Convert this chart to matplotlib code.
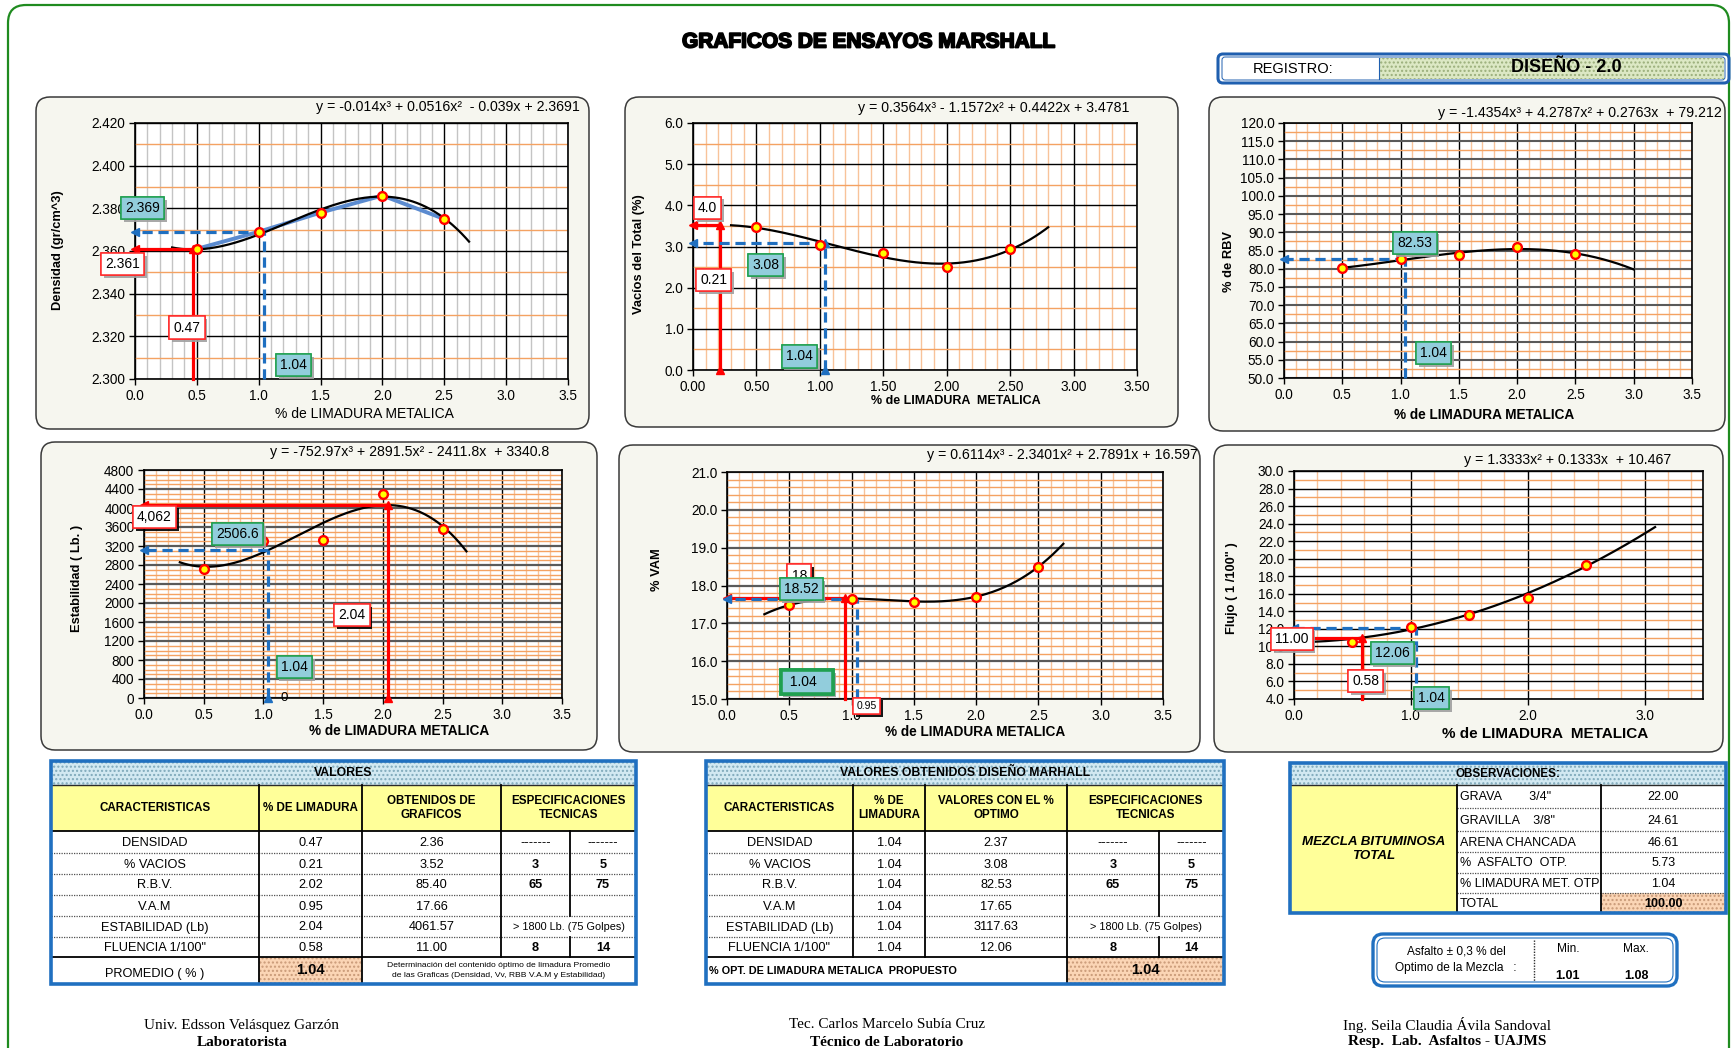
import numpy as np
import matplotlib
matplotlib.use("Agg")
import matplotlib.pyplot as plt
from matplotlib.patches import FancyBboxPatch, Rectangle
from matplotlib.ticker import MultipleLocator, FormatStrFormatter
import matplotlib.patheffects as pe

plt.rcParams['font.family'] = ['Liberation Sans', 'DejaVu Sans']

# ---------------- data ----------------
limadura = [0.5, 1.0, 1.5, 2.0, 2.5]
densidad = [2.361, 2.369, 2.378, 2.386, 2.375]
vacios = [3.47, 3.04, 2.84, 2.51, 2.94]
rbv = [80.2, 82.6, 83.8, 85.9, 84.1]
estabilidad = [2709, 3312, 3333, 4295, 3558]
vam = [17.48, 17.64, 17.57, 17.70, 18.48]
flujo = [10.55, 12.26, 13.63, 15.53, 19.23]

# polynomial trend lines (coefficients, highest power first) and their x span
coef_densidad = [-0.014, 0.0516, -0.039, 2.3691]
coef_vacios = [0.3564, -1.1572, 0.4422, 3.4781]
coef_rbv = [-1.4354, 4.2787, 0.2763, 79.212]
coef_estabilidad = [-752.97, 2891.5, -2411.8, 3340.8]
coef_vam = [0.6114, -2.3401, 2.7891, 16.597]
coef_flujo = [1.3333, 0.1333, 10.467]
span_densidad = [0.3, 2.7]
span_vacios = [0.3, 2.8]
span_rbv = [0.5, 3.0]
span_estabilidad = [0.3, 2.7]
span_vam = [0.3, 2.7]
span_flujo = [0.17, 3.09]

# optimum and per-property readings
optimo = 1.04
opt_densidad, opt_vacios, opt_rbv = 2.369, 3.08, 82.53
opt_estabilidad, opt_vam, opt_flujo = 3117.63, 17.65, 12.06
lim_densidad, val_densidad = 0.47, 2.361
lim_vacios, val_vacios = 0.21, 3.52
lim_estabilidad, val_estabilidad = 2.04, 4062
lim_vam, val_vam = 0.95, 17.66
lim_flujo, val_flujo = 0.58, 11.00

# table contents
caracteristicas = ['DENSIDAD', '% VACIOS', 'R.B.V.', 'V.A.M', 'ESTABILIDAD (Lb)', 'FLUENCIA 1/100"']
t1_limadura = ['0.47', '0.21', '2.02', '0.95', '2.04', '0.58']
t1_obtenidos = ['2.36', '3.52', '85.40', '17.66', '4061.57', '11.00']
t2_limadura = ['1.04'] * 6
t2_optimo = ['2.37', '3.08', '82.53', '17.65', '3117.63', '12.06']
spec_min = ['-------', '3', '65', '', None, '8']
spec_max = ['-------', '5', '75', '', None, '14']
spec_estab = '> 1800 Lb. (75 Golpes)'
obs_items = ['GRAVA        3/4"', 'GRAVILLA    3/8"', 'ARENA CHANCADA', '%  ASFALTO  OTP.',
             '% LIMADURA MET. OTP', 'TOTAL']
obs_values = ['22.00', '24.61', '46.61', '5.73', '1.04', '100.00']
asfalto_min, asfalto_max = '1.01', '1.08'

# ---------------- figure ----------------
W, H = 1734, 1048
fig = plt.figure(figsize=(W / 100, H / 100), dpi=100)
fig.patch.set_facecolor('white')
bg = fig.add_axes([0, 0, 1, 1])
bg.set_xlim(0, W)
bg.set_ylim(H, 0)
bg.axis('off')

PANEL = '#F6F6EF'
RED = '#FF0000'
BLUE = '#1F6FC0'
ORANGE_H = '#F4A262'
ORANGE_V = '#F8C39A'


def rbox(x0, y0, x1, y1, r, **kw):
    bg.add_patch(FancyBboxPatch((x0, y0), x1 - x0, y1 - y0,
                                boxstyle=f'round,pad=0,rounding_size={r}', **kw))


# outer frame and header
rbox(8, 5, 1729, 1075, 18, fc='none', ec='#1F8B1F', lw=1.6)
bg.text(869, 42, 'GRAFICOS DE ENSAYOS MARSHALL', ha='center', va='center', fontsize=15,
        fontweight='bold', path_effects=[pe.withStroke(linewidth=1.3, foreground='black')])

rbox(1218, 54, 1729, 83, 5, fc='white', ec='#1F5FAF', lw=2.2)
rbox(1222, 57, 1725, 80, 3, fc='white', ec='#1F5FAF', lw=0.7)
bg.add_patch(Rectangle((1379, 58), 345, 21, fc='#DCE8C4', ec='none'))
bg.add_patch(Rectangle((1379, 58), 345, 21, fill=False, hatch='....', ec='#9AAE7A', lw=0))
bg.plot([1379, 1379], [58, 79], color='#1F5FAF', lw=0.8)
bg.text(1293, 69, 'REGISTRO:', ha='center', va='center', fontsize=10.5)
bg.text(1566, 68, 'DISEÑO - 2.0', ha='center', va='center', fontsize=13, fontweight='bold')


def chart(panel, plot, ylim, xstep, xminor, ystep, yminor, xfmt, yfmt,
          vminor, hmajor, hmajor_lw, eq, eq_pos, ylabel, ylabel_pos,
          xlabel, xlabel_pos, xlabel_weight='bold', xlabel_size=9):
    x0, y0, x1, y1 = panel
    rbox(x0, y0, x1, y1, 14, fc=PANEL, ec='#3A3A3A', lw=1.1)
    px0, py0, px1, py1 = plot
    ax = fig.add_axes([px0 / W, 1 - py1 / H, (px1 - px0) / W, (py1 - py0) / H])
    ax.set_facecolor('white')
    ax.set_xlim(0, 3.5)
    ax.set_ylim(*ylim)
    ax.xaxis.set_major_locator(MultipleLocator(xstep))
    ax.xaxis.set_minor_locator(MultipleLocator(xminor))
    ax.yaxis.set_major_locator(MultipleLocator(ystep))
    ax.yaxis.set_minor_locator(MultipleLocator(yminor))
    ax.xaxis.set_major_formatter(FormatStrFormatter(xfmt))
    ax.yaxis.set_major_formatter(FormatStrFormatter(yfmt))
    ax.grid(which='minor', axis='x', color=vminor, lw=1.0)
    ax.grid(which='minor', axis='y', color=ORANGE_H, lw=1.0)
    ax.grid(which='major', axis='x', color='black', lw=1.0)
    ax.grid(which='major', axis='y', color=hmajor, lw=hmajor_lw)
    ax.set_axisbelow(True)
    ax.tick_params(which='minor', length=0)
    ax.tick_params(which='major', length=4, width=1, labelsize=9.8, pad=3)
    for s in ax.spines.values():
        s.set_color('black')
        s.set_linewidth(1.2)
    bg.text(eq_pos[0], eq_pos[1], eq, ha='right', va='center', fontsize=10.2)
    bg.text(ylabel_pos[0], ylabel_pos[1], ylabel, rotation=90, ha='center', va='center',
            fontsize=9.3, fontweight='bold')
    bg.text(xlabel_pos[0], xlabel_pos[1], xlabel, ha='center', va='center',
            fontsize=xlabel_size, fontweight=xlabel_weight)
    return ax


def series(ax, y, coef, span, connect=False):
    if connect:
        ax.plot(limadura, y, color='#5B8BD0', lw=2.8, zorder=3)
    xs = np.linspace(span[0], span[1], 200)
    ax.plot(xs, np.polyval(coef, xs), color='black', lw=1.6, zorder=4)
    ax.plot(limadura, y, ls='none', marker='o', ms=6.3, mfc='#FFFF00', mec=RED, mew=1.7,
            zorder=9, clip_on=False)


def guide(ax, x, y, base, color, dashed, top=False, bottom=False):
    ls = (0, (3.2, 1.8)) if dashed else '-'
    kw = dict(color=color, lw=2.3, ls=ls, zorder=6, clip_on=False)
    ax.plot([x, x], [base, y], **kw)
    ax.plot([x, 0], [y, y], **kw)
    mk = dict(color=color, ms=6, ls='none', zorder=7, clip_on=False)
    ax.plot([0], [y], marker='<', **mk)
    if top:
        ax.plot([x], [y], marker='^', **mk)
    if bottom:
        ax.plot([x], [base], marker='^', **mk)


def tag(ax, x, y, s, kind, size=10, shadow='#A0A0A0', lw=1.1, z=10, pad=0.3):
    if kind == 'red':
        fc, ec = 'white', '#FF2A2A'
    else:
        fc, ec = '#92CDDC', '#20A050'
    t = ax.text(x, y, s, ha='center', va='center', fontsize=size, zorder=z, clip_on=False,
                bbox=dict(boxstyle=f'square,pad={pad}', fc=fc, ec=ec, lw=lw))
    t.get_bbox_patch().set_path_effects(
        [pe.withSimplePatchShadow(offset=(2, -2), shadow_rgbFace=shadow, alpha=0.9), pe.Normal()])
    return t


# ---- Densidad ----
ax1 = chart((36, 97, 589, 429), (135, 123, 568, 379), (2.300, 2.420), 0.5, 0.1, 0.02, 0.01,
            '%.1f', '%.3f', '#C4C4C4', 'black', 1.0,
            'y = -0.014x³ + 0.0516x²  - 0.039x + 2.3691', (580, 107),
            'Densidad (gr/cm^3)', (58, 250), '% de LIMADURA METALICA', (364, 414),
            xlabel_weight='normal', xlabel_size=10)
series(ax1, densidad, coef_densidad, span_densidad, connect=True)
guide(ax1, lim_densidad, val_densidad, 2.300, RED, False, top=True)
guide(ax1, optimo, opt_densidad, 2.300, BLUE, True)
tag(ax1, 0.06, 2.3800, f'{opt_densidad:.3f}', 'teal')
tag(ax1, -0.10, 2.3539, f'{val_densidad:.3f}', 'red')
tag(ax1, 0.42, 2.3241, f'{lim_densidad:.2f}', 'red')
tag(ax1, 1.28, 2.3066, f'{optimo:.2f}', 'teal')

# ---- Vacios ----
ax2 = chart((625, 97, 1178, 427), (693, 123, 1137, 370), (0, 6), 0.5, 0.1, 1.0, 0.5,
            '%.2f', '%.1f', ORANGE_V, 'black', 1.0,
            'y = 0.3564x³ - 1.1572x² + 0.4422x + 3.4781', (1130, 108),
            'Vacíos del Total (%)', (639, 254), '% de LIMADURA  METALICA', (956, 401),
            xlabel_size=9)
series(ax2, vacios, coef_vacios, span_vacios)
guide(ax2, lim_vacios, val_vacios, 0, RED, False, top=True, bottom=True)
guide(ax2, optimo, opt_vacios, 0, BLUE, True, top=True, bottom=True)
tag(ax2, 0.115, 3.94, '4.0', 'red')
tag(ax2, 0.163, 2.18, f'{lim_vacios:.2f}', 'red')
tag(ax2, 0.573, 2.55, f'{opt_vacios:.2f}', 'teal')
tag(ax2, 0.837, 0.33, f'{optimo:.2f}', 'teal')

# ---- RBV ----
ax3 = chart((1209, 97, 1725, 431), (1284, 123, 1692, 378), (50, 120), 0.5, 0.1, 5.0, 2.5,
            '%.1f', '%.1f', ORANGE_V, '#5A5A5A', 1.5,
            'y = -1.4354x³ + 4.2787x² + 0.2763x  + 79.212', (1722, 113),
            '% de RBV', (1229, 262), '% de LIMADURA METALICA', (1484, 415), xlabel_size=9.8)
series(ax3, rbv, coef_rbv, span_rbv)
guide(ax3, optimo, opt_rbv, 50, BLUE, True)
tag(ax3, 1.124, 87.1, f'{opt_rbv:.2f}', 'teal')
tag(ax3, 1.284, 56.8, f'{optimo:.2f}', 'teal')

# ---- Estabilidad ----
ax4 = chart((41, 442, 597, 750), (144, 470, 562, 698), (0, 4800), 0.5, 0.1, 400, 100,
            '%.1f', '%d', ORANGE_V, '#5A5A5A', 1.6,
            'y = -752.97x³ + 2891.5x² - 2411.8x  + 3340.8', (549, 452),
            'Estabilidad ( Lb. )', (77, 578), '% de LIMADURA METALICA', (399, 731),
            xlabel_size=9.8)
series(ax4, estabilidad, coef_estabilidad, span_estabilidad)
guide(ax4, lim_estabilidad, val_estabilidad, 0, RED, False, top=True, bottom=True)
guide(ax4, optimo, opt_estabilidad, 0, BLUE, True, bottom=True)
tag(ax4, 0.087, 3817, f'{val_estabilidad:,}', 'red', shadow='black')
tag(ax4, 0.785, 3446, '2506.6', 'teal')
tag(ax4, 1.74, 1747, f'{lim_estabilidad:.2f}', 'red', shadow='black')
tag(ax4, 1.257, 646, f'{optimo:.2f}', 'teal')
ax4.text(1.17, 0, '0', ha='center', va='center', fontsize=9.5, zorder=10, clip_on=False)

# ---- VAM ----
ax5 = chart((619, 445, 1200, 752), (727, 472, 1163, 699), (15, 21), 0.5, 0.1, 1.0, 0.2,
            '%.1f', '%.1f', ORANGE_V, '#5A5A5A', 1.6,
            'y = 0.6114x³ - 2.3401x² + 2.7891x + 16.597', (1198, 455),
            '% VAM', (657, 570), '% de LIMADURA METALICA', (975, 732), xlabel_size=9.8)
series(ax5, vam, coef_vam, span_vam)
guide(ax5, lim_vam, val_vam, 15, RED, False, top=True)
guide(ax5, optimo, opt_vam, 15, BLUE, True)
tag(ax5, 0.58, 18.26, '18', 'red', shadow='black', z=10)
tag(ax5, 0.595, 17.90, '18.52', 'teal', z=11)
tag(ax5, 0.64, 15.45, f' {optimo:.2f}   ', 'teal', lw=2.6, pad=0.35)
tag(ax5, 1.12, 14.82, f'{lim_vam:.2f}', 'red', size=7.5, shadow='black')

# ---- Flujo ----
ax6 = chart((1214, 445, 1723, 752), (1294, 471, 1703, 699), (4, 30), 1.0, 0.2, 2.0, 1.0,
            '%.1f', '%.1f', ORANGE_V, 'black', 1.0,
            'y = 1.3333x² + 0.1333x  + 10.467', (1671, 460),
            'Flujo ( 1 /100" )', (1232, 588), '% de LIMADURA  METALICA', (1545, 734),
            xlabel_size=11)
series(ax6, flujo, coef_flujo, span_flujo)
guide(ax6, lim_flujo, val_flujo, 4, RED, False, top=True)
guide(ax6, optimo, opt_flujo, 4, BLUE, True)
tag(ax6, -0.02, 10.81, f'{val_flujo:.2f}', 'red')
tag(ax6, 0.84, 9.25, f'{opt_flujo:.2f}', 'teal')
tag(ax6, 0.614, 6.02, f'{lim_flujo:.2f}', 'red')
tag(ax6, 1.174, 4.11, f'{optimo:.2f}', 'teal')


# ---------------- tables ----------------
def fill(x0, y0, x1, y1, fc, dots=None, z=1):
    bg.add_patch(Rectangle((x0, y0), x1 - x0, y1 - y0, fc=fc, ec='none', lw=0, zorder=z))
    if dots:
        bg.add_patch(Rectangle((x0, y0), x1 - x0, y1 - y0, fill=False, hatch='....',
                               ec=dots, lw=0, zorder=z + 0.1))


def hl(y, x0, x1, **kw):
    bg.plot([x0, x1], [y, y], zorder=3, **kw)


def vl(x, y0, y1, **kw):
    bg.plot([x, x], [y0, y1], zorder=3, **kw)


SOLID = dict(color='black', lw=1.3)
DOT = dict(color='#505050', lw=0.9, ls=(0, (1, 1)))
TBLUE = '#2070C0'
FS = 9.2


def main_table(cols, rows, title, heads, col1, col2, last):
    x0, x5 = cols[0], cols[-1]
    fill(x0, rows[0], x5, rows[-1], 'white')
    fill(x0, rows[0], x5, rows[1], '#D2E9F2', '#7FA9BA')
    fill(x0, rows[1], x5, rows[2], '#FFFF99')
    cx = [(cols[i] + cols[i + 1]) / 2 for i in range(5)]
    bg.text((x0 + x5) / 2, (rows[0] + rows[1]) / 2, title, ha='center', va='center',
            fontsize=8.8, fontweight='bold', zorder=4)
    hy = (rows[1] + rows[2]) / 2
    for i, h in enumerate(heads):
        xc = cx[i] if i < 3 else (cols[3] + cols[5]) / 2
        bg.text(xc, hy, h, ha='center', va='center', fontsize=8.4, fontweight='bold',
                linespacing=1.2, zorder=4)
    for r in range(6):
        yc = (rows[r + 2] + rows[r + 3]) / 2 + 1
        bg.text(cx[0], yc, caracteristicas[r], ha='center', va='center', fontsize=FS, zorder=4)
        bg.text(cx[1], yc, col1[r], ha='center', va='center', fontsize=FS, zorder=4)
        bg.text(cx[2], yc, col2[r], ha='center', va='center', fontsize=FS, zorder=4)
        if spec_min[r] is None:
            bg.text((cols[3] + cols[5]) / 2, yc, spec_estab, ha='center', va='center',
                    fontsize=7.8, zorder=4)
        else:
            bold = 'bold' if spec_min[r] not in ('-------', '') else 'normal'
            bg.text(cx[3], yc, spec_min[r], ha='center', va='center', fontsize=FS,
                    fontweight=bold, zorder=4)
            bg.text(cx[4], yc, spec_max[r], ha='center', va='center', fontsize=FS,
                    fontweight=bold, zorder=4)
    for r in rows[3:8]:
        hl(r, x0, x5, **DOT)
    hl(rows[1], x0, x5, color='#2A2A2A', lw=1.0)
    hl(rows[2], x0, x5, **SOLID)
    hl(rows[8], x0, x5, **SOLID)
    for c in cols[1:4]:
        vl(c, rows[1], rows[8], **SOLID)
    vl(cols[4], rows[2], rows[6], **SOLID)
    vl(cols[4], rows[7], rows[8], **SOLID)
    ly = (rows[8] + rows[9]) / 2
    if last == 'promedio':
        fill(cols[1], rows[8], cols[2], rows[9], '#FBD5B5', '#C99A78', z=2)
        vl(cols[1], rows[8], rows[9], **SOLID)
        vl(cols[2], rows[8], rows[9], **SOLID)
        bg.text(cx[0], ly + 3, 'PROMEDIO ( % )', ha='center', va='center', fontsize=FS, zorder=4)
        bg.text(cx[1], ly, f'{optimo:.2f}', ha='center', va='center', fontsize=10.5,
                fontweight='bold', zorder=4)
        bg.text((cols[2] + cols[5]) / 2, ly,
                'Determinación del contenido óptimo de limadura Promedio\n'
                'de las Graficas (Densidad, Vv, RBB V.A.M y Estabilidad)',
                ha='center', va='center', fontsize=6.1, linespacing=1.45, zorder=4)
    else:
        fill(cols[3], rows[8], cols[5], rows[9], '#FBD5B5', '#C99A78', z=2)
        vl(cols[3], rows[8], rows[9], **SOLID)
        bg.text(x0 + 3, ly, '% OPT. DE LIMADURA METALICA  PROPUESTO', ha='left', va='center',
                fontsize=7.8, fontweight='bold', zorder=4)
        bg.text((cols[3] + cols[5]) / 2, ly, f'{optimo:.2f}', ha='center', va='center',
                fontsize=10.5, fontweight='bold', zorder=4)
    bg.add_patch(Rectangle((x0, rows[0]), x5 - x0, rows[-1] - rows[0], fill=False,
                           ec=TBLUE, lw=2.6, zorder=5))


rows_t = [761, 785, 831, 853, 874, 895, 916, 937, 957, 984]
main_table([51, 259, 362, 501, 570, 636], rows_t, 'VALORES',
           ['CARACTERISTICAS', '% DE LIMADURA', 'OBTENIDOS DE\nGRAFICOS',
            'ESPECIFICACIONES\nTECNICAS'],
           t1_limadura, t1_obtenidos, 'promedio')
main_table([706, 853, 925, 1067, 1159, 1224], rows_t, 'VALORES OBTENIDOS DISEÑO MARHALL',
           ['CARACTERISTICAS', '% DE\nLIMADURA', 'VALORES CON EL %\nOPTIMO',
            'ESPECIFICACIONES\nTECNICAS'],
           t2_limadura, t2_optimo, 'optimo')

# observaciones
oc = [1290, 1457, 1601, 1726]
orows = [763, 785, 808, 831, 852, 873, 893, 913]
fill(oc[0], orows[0], oc[3], orows[-1], 'white')
fill(oc[0], orows[0], oc[3], orows[1], '#D2E9F2', '#7FA9BA')
fill(oc[0], orows[1], oc[1], orows[-1], '#FFFF99')
fill(oc[2], orows[6], oc[3], orows[7], '#FBD5B5', '#C99A78', z=2)
bg.text((oc[0] + oc[3]) / 2, (orows[0] + orows[1]) / 2, 'OBSERVACIONES:', ha='center',
        va='center', fontsize=8.4, fontweight='bold', zorder=4)
bg.text((oc[0] + oc[1]) / 2, 849, 'MEZCLA BITUMINOSA\nTOTAL', ha='center', va='center',
        fontsize=9.6, fontweight='bold', style='italic', linespacing=1.2, zorder=4)
for i in range(6):
    yc = (orows[i + 1] + orows[i + 2]) / 2 + 1
    bg.text(oc[1] + 3, yc, obs_items[i], ha='left', va='center', fontsize=9, zorder=4)
    bg.text((oc[2] + oc[3]) / 2, yc, obs_values[i], ha='center', va='center', fontsize=9,
            fontweight='bold' if i == 5 else 'normal', zorder=4)
for r in orows[2:7]:
    hl(r, oc[1], oc[3], **DOT)
hl(orows[1], oc[0], oc[3], color='#2A2A2A', lw=1.0)
vl(oc[1], orows[1], orows[-1], **SOLID)
vl(oc[2], orows[1], orows[-1], **SOLID)
bg.add_patch(Rectangle((oc[0], orows[0]), oc[3] - oc[0], orows[-1] - orows[0], fill=False,
                       ec=TBLUE, lw=2.6, zorder=5))

# asphalt range box
rbox(1373, 934, 1677, 986, 10, fc='white', ec=TBLUE, lw=2.4)
rbox(1377, 938, 1673, 982, 8, fc='none', ec=TBLUE, lw=0.8)
vl(1534, 940, 981, color='#303030', lw=1.0, ls=(0, (1, 1)))
bg.text(1456, 952, 'Asfalto ± 0,3 % del', ha='center', va='center', fontsize=8.6, zorder=4)
bg.text(1456, 968, 'Optimo de la Mezcla   :', ha='center', va='center', fontsize=8.6, zorder=4)
bg.text(1568, 949, 'Min.', ha='center', va='center', fontsize=8.6, zorder=4)
bg.text(1636, 949, 'Max.', ha='center', va='center', fontsize=8.6, zorder=4)
bg.text(1568, 976, asfalto_min, ha='center', va='center', fontsize=9, fontweight='bold', zorder=4)
bg.text(1636, 976, asfalto_max, ha='center', va='center', fontsize=9, fontweight='bold', zorder=4)

# signatures
firmas = [(242, 'Univ. Edsson Velásquez Garzón', 'Laboratorista'),
          (887, 'Tec. Carlos Marcelo Subía Cruz', 'Técnico de Laboratorio'),
          (1447, 'Ing. Seila Claudia Ávila Sandoval', 'Resp.  Lab.  Asfaltos - UAJMS')]
for x, nombre, cargo in firmas:
    bg.text(x, 1025, nombre, ha='center', va='center', fontsize=11, family='Liberation Serif')
    bg.text(x, 1042, cargo, ha='center', va='center', fontsize=11, fontweight='bold',
            family='Liberation Serif')

fig.savefig('out.png', dpi=100, facecolor='white')
